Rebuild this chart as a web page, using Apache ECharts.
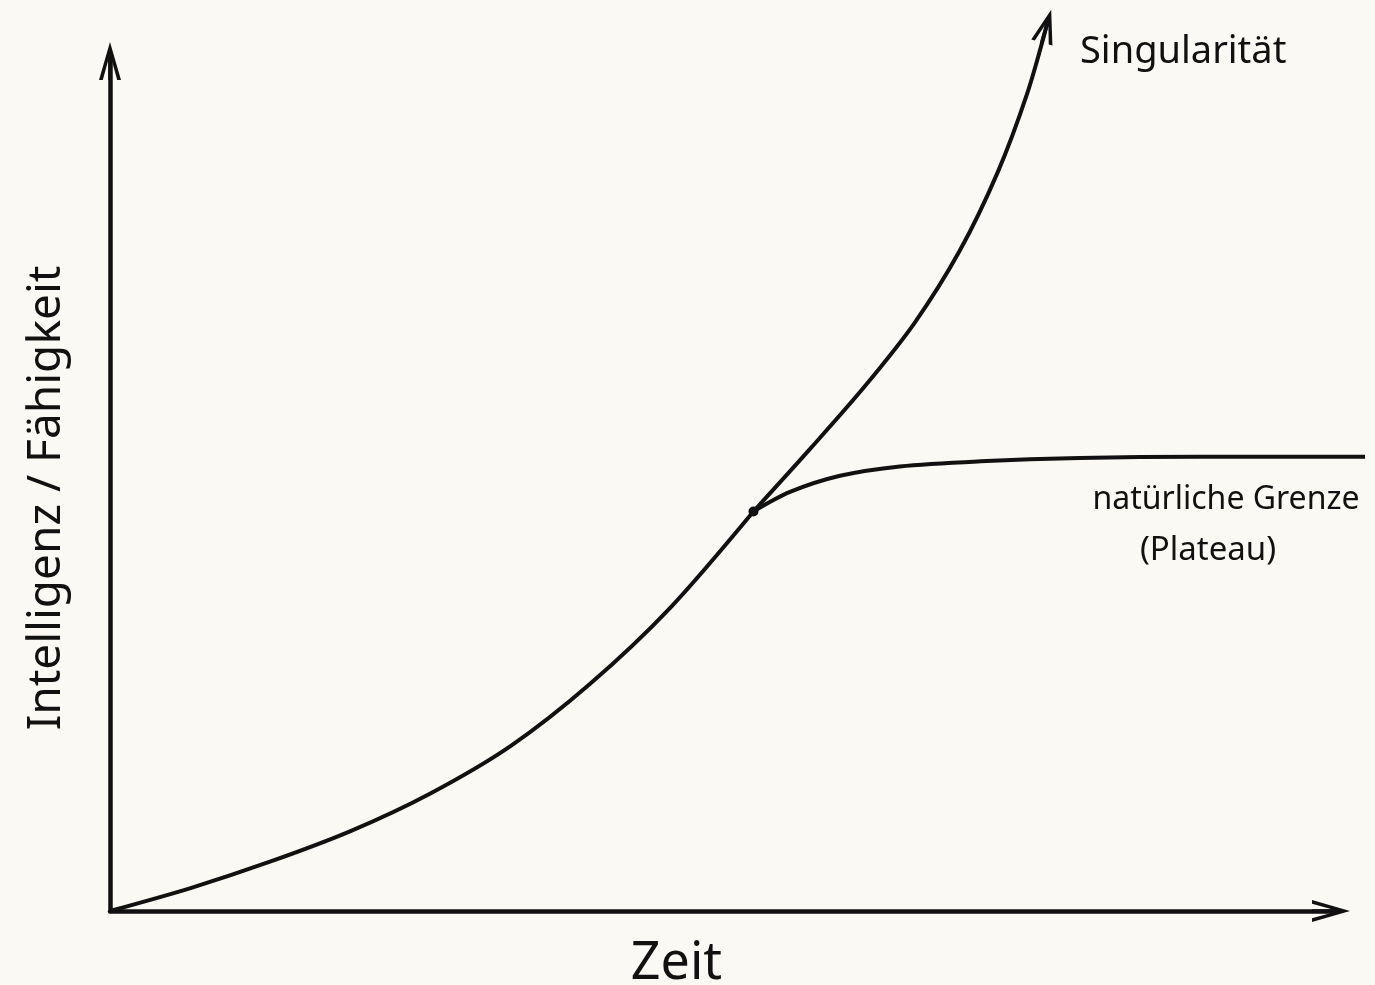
<!DOCTYPE html>
<html lang="de">
<head>
  <meta charset="UTF-8">
  <title>Singularität vs. Plateau</title>
  <script src="https://cdn.jsdelivr.net/npm/echarts@6/dist/echarts.min.js"></script>
  <style>
    html, body { margin: 0; padding: 0; background: #fbf9f4; }
    #chart { width: 1375px; height: 985px; }
  </style>
</head>
<body>
  <div id="chart"></div>
  <script>
    var mainX = [0, 6.6, 13.1, 19.7, 26.2, 32.8, 39.3, 45.9, 52.7]
    var mainY = [0, 2.7, 5.8, 9.4, 13.8, 19.4, 26.7, 35.7, 47.0]

    var singX = [52.7, 57.3, 61.8, 65.9, 69.6, 72.7, 75.1, 76.7]
    var singY = [47.0, 54.3, 61.7, 69.2, 77.7, 86.9, 96.1, 104.1]

    var plateauX = [52.7, 55.7, 59.8, 64.7, 71.3, 79.4, 89.3, 102.8]
    var plateauY = [47.0, 49.3, 51.2, 52.3, 52.9, 53.3, 53.45, 53.45]

    var ink = '#111111'
    var font = 'Noto Sans'
    // offener Pfeil (Winkel) mit kurzem Schaft, Spitze oben
    var chevron = 'path://M0,38 L11,0 L22,38 L18.2,38 L11,11.8 L3.8,38 Z M9.2,8 L12.8,8 L12.8,38 L9.2,38 Z'

    function pairs(xs, ys) {
      return xs.map(function (x, i) { return [x, ys[i]] })
    }

    var mainData = pairs(mainX, mainY)
    // Verzweigungspunkt als kleiner Punkt
    mainData[mainData.length - 1] = { value: mainData[mainData.length - 1], symbol: 'circle', symbolSize: 10 }

    var singData = pairs(singX, singY)
    singData[singData.length - 1] = {
      value: singData[singData.length - 1],
      symbol: chevron, symbolSize: [22, 34], symbolRotate: -16
    }

    var axisLine = {
      show: true,
      symbol: ['none', chevron],
      symbolSize: [22, 38],
      lineStyle: { color: ink, width: 4.5, cap: 'round' }
    }
    var hidden = { show: false }

    var chart = echarts.init(document.getElementById('chart'))
    chart.setOption({
      backgroundColor: '#fbf9f4',
      animation: false,
      textStyle: { fontFamily: font },
      grid: [
        { left: 110, right: 44, top: 61, bottom: 74, containLabel: false, outerBoundsMode: 'none' },
        // gleiche Skala, etwas breiter: das Plateau läuft über die Pfeilspitze hinaus
        { left: 110, right: 10, top: 61, bottom: 74, containLabel: false, outerBoundsMode: 'none' }
      ],
      xAxis: [
        {
          type: 'value', min: 0, max: 100,
          name: 'Zeit', nameLocation: 'middle', nameGap: 27,
          nameTextStyle: { fontSize: 52, color: ink, fontFamily: font, padding: [0, 88, 0, 0] },
          axisLine: axisLine,
          axisTick: hidden, axisLabel: hidden, splitLine: hidden
        },
        { type: 'value', gridIndex: 1, min: 0, max: 102.8, show: false, splitLine: hidden }
      ],
      yAxis: [
        {
          type: 'value', min: 0, max: 100,
          name: 'Intelligenz / Fähigkeit', nameLocation: 'middle', nameGap: 40,
          nameTextStyle: { fontSize: 46, color: ink, fontFamily: font, padding: [0, 24, 0, 0] },
          axisLine: axisLine,
          axisTick: hidden, axisLabel: hidden, splitLine: hidden
        },
        { type: 'value', gridIndex: 1, min: 0, max: 100, show: false, splitLine: hidden }
      ],
      series: [
        {
          name: 'Wachstum', type: 'line', data: mainData, smooth: 0.3,
          symbol: 'none', showSymbol: true, clip: false,
          itemStyle: { color: ink },
          lineStyle: { color: ink, width: 4 }
        },
        {
          name: 'Singularität', type: 'line', data: singData, smooth: 0.3,
          symbol: 'none', showSymbol: true, clip: false,
          itemStyle: { color: ink },
          lineStyle: { color: ink, width: 4 }
        },
        {
          name: 'natürliche Grenze', type: 'line', xAxisIndex: 1, yAxisIndex: 1,
          data: pairs(plateauX, plateauY), smooth: 0.3,
          symbol: 'none', clip: false,
          lineStyle: { color: ink, width: 4 }
        }
      ],
      graphic: [
        {
          type: 'text', x: 1080, y: 52,
          style: { text: 'Singularität', font: '38px "Noto Sans"', fill: ink, verticalAlign: 'middle' }
        },
        {
          type: 'text', x: 1226, y: 500,
          style: { text: 'natürliche Grenze', font: '32px "Noto Sans"', fill: ink, align: 'center', verticalAlign: 'middle' }
        },
        {
          type: 'text', x: 1208, y: 551,
          style: { text: '(Plateau)', font: '33px "Noto Sans"', fill: ink, align: 'center', verticalAlign: 'middle' }
        }
      ]
    })
  </script>
</body>
</html>
